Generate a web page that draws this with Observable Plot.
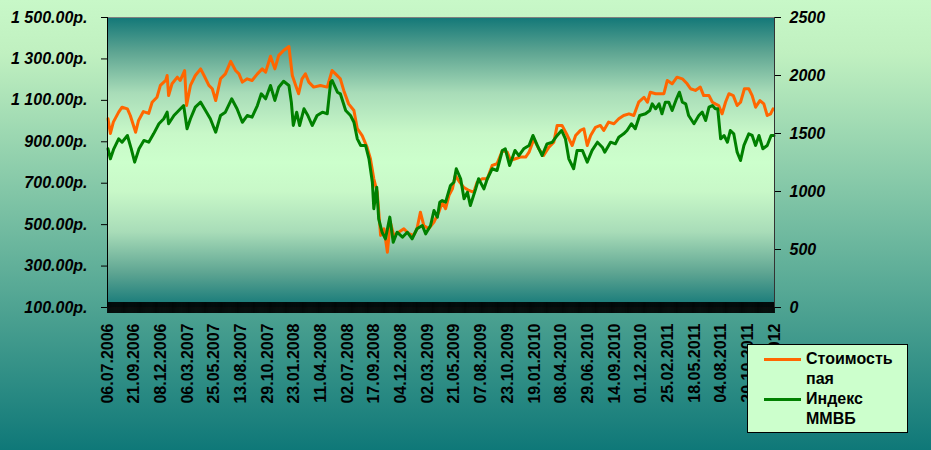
<!DOCTYPE html>
<html>
<head>
<meta charset="utf-8">
<script src="https://cdn.jsdelivr.net/npm/d3@7"></script>
<script src="https://cdn.jsdelivr.net/npm/@observablehq/plot@0.6"></script>
<style>
html, body { margin: 0; padding: 0; }
#chart {
  position: relative; width: 931px; height: 450px; overflow: hidden;
  background: linear-gradient(to bottom, #c8f8c8 0%, #c0f0c0 12%, #0f7878 100%);
  font-family: "Liberation Sans", Arial, sans-serif;
}
#chart svg { position: absolute; left: 0; top: 0; }
#legend {
  position: absolute; left: 747px; top: 344px; width: 161px; height: 89px;
  box-sizing: border-box; background: #ccffcc; border: 1px solid #000;
  font-weight: bold; font-size: 16px; color: #000;
}
.item { position: absolute; left: 16px; }
.sw { position: absolute; left: 0; top: 9px; width: 37px; height: 3px; }
.lbl { position: absolute; left: 42px; top: 0; width: 100px; line-height: 19.5px; }
</style>
</head>
<body>
<div id="chart"><div id="legend"></div></div>
<script>
// ---- data (trading-day index, value) ----
const seriesNames = ["Стоимость пая", "Индекс ММВБ"];
const seriesColors = ["#ff6600", "#008000"];

const paiSeries = [[1,1011],[6,940],[12,995],[23,1043],[30,1067],[41,1059],[47,1027],[58,946],[64,1003],[74,1046],[85,1037],[92,1091],[102,1115],[109,1172],[120,1196],[123,1220],[126,1123],[133,1180],[144,1212],[150,1196],[159,1244],[163,1075],[171,1172],[181,1220],[192,1252],[199,1220],[209,1172],[216,1156],[223,1099],[233,1204],[243,1228],[254,1288],[264,1244],[271,1228],[278,1188],[288,1204],[298,1196],[309,1228],[319,1252],[326,1236],[336,1313],[345,1252],[353,1317],[363,1341],[374,1360],[381,1220],[388,1172],[394,1132],[401,1204],[408,1228],[415,1188],[425,1164],[439,1172],[453,1164],[463,1244],[470,1228],[480,1204],[487,1148],[497,1083],[508,1051],[515,963],[525,930],[535,874],[542,818],[549,721],[556,657],[563,448],[570,480],[577,367],[583,512],[590,448],[601,464],[611,480],[621,456],[631,448],[638,480],[645,560],[652,496],[662,480],[673,512],[683,560],[690,608],[697,577],[704,641],[711,673],[717,737],[726,705],[734,681],[745,665],[755,657],[762,705],[772,721],[783,721],[793,786],[803,794],[814,858],[824,850],[831,810],[841,818],[851,826],[862,826],[869,850],[879,914],[889,866],[899,834],[910,874],[920,898],[927,979],[937,979],[948,930],[958,882],[965,930],[975,955],[982,963],[989,882],[996,930],[1006,970],[1016,979],[1023,955],[1033,995],[1044,987],[1054,1011],[1064,1027],[1075,1035],[1085,1027],[1095,1091],[1106,1115],[1113,1091],[1119,1139],[1130,1132],[1140,1132],[1147,1132],[1154,1196],[1164,1180],[1174,1212],[1185,1204],[1195,1180],[1202,1156],[1212,1148],[1222,1164],[1229,1123],[1240,1123],[1247,1091],[1253,1083],[1260,1075],[1267,1035],[1274,1091],[1281,1132],[1290,1123],[1298,1075],[1305,1091],[1313,1156],[1322,1156],[1329,1123],[1336,1067],[1345,1099],[1353,1083],[1360,1027],[1367,1035],[1372,1059]];

const mmvbSeries = [[1,1368],[6,1282],[13,1368],[23,1454],[30,1425],[41,1483],[49,1368],[56,1253],[65,1368],[75,1440],[85,1425],[95,1497],[106,1584],[116,1627],[123,1684],[126,1584],[137,1655],[147,1698],[157,1741],[164,1541],[171,1627],[181,1727],[192,1770],[202,1698],[212,1627],[223,1511],[233,1655],[243,1684],[256,1799],[267,1713],[278,1597],[288,1655],[298,1641],[309,1741],[317,1842],[326,1799],[336,1914],[345,1785],[353,1899],[363,1950],[374,1914],[379,1770],[383,1569],[390,1684],[396,1569],[405,1713],[413,1655],[422,1569],[432,1655],[443,1684],[453,1670],[460,1942],[463,1957],[474,1856],[480,1842],[491,1698],[501,1655],[508,1597],[515,1454],[522,1397],[532,1397],[539,1282],[546,1080],[549,851],[555,1037],[559,765],[566,649],[573,592],[582,779],[589,563],[597,649],[608,606],[618,649],[628,592],[638,679],[649,707],[656,635],[666,707],[673,836],[680,779],[685,908],[690,922],[697,908],[707,1052],[714,1080],[719,1196],[728,1110],[735,937],[742,994],[748,879],[759,1023],[765,1110],[776,1023],[783,1110],[793,1196],[803,1181],[814,1354],[820,1368],[829,1224],[840,1354],[848,1310],[858,1368],[869,1397],[877,1483],[886,1397],[896,1310],[906,1411],[917,1425],[927,1483],[936,1526],[944,1454],[951,1282],[961,1196],[968,1354],[979,1354],[989,1253],[999,1354],[1010,1425],[1020,1382],[1025,1339],[1037,1425],[1047,1411],[1054,1468],[1064,1497],[1071,1526],[1080,1584],[1088,1541],[1097,1655],[1109,1670],[1118,1698],[1123,1756],[1130,1713],[1137,1756],[1143,1670],[1150,1770],[1157,1770],[1164,1698],[1173,1799],[1179,1856],[1185,1770],[1192,1756],[1198,1655],[1209,1584],[1219,1655],[1226,1684],[1233,1612],[1240,1727],[1247,1741],[1253,1713],[1258,1713],[1264,1454],[1271,1483],[1278,1425],[1284,1526],[1291,1497],[1298,1339],[1305,1267],[1312,1397],[1322,1497],[1329,1483],[1336,1397],[1343,1483],[1351,1368],[1360,1397],[1368,1483],[1374,1483]];

const xLabels = ["06.07.2006","21.09.2006","08.12.2006","06.03.2007","25.05.2007","13.08.2007","29.10.2007","23.01.2008","11.04.2008","02.07.2008","17.09.2008","04.12.2008","02.03.2009","21.05.2009","07.08.2009","23.10.2009","19.01.2010","08.04.2010","29.06.2010","14.09.2010","01.12.2010","25.02.2011","18.05.2011","04.08.2011","20.10.2011","17.01.2012"];
const labelStep = 55;              // trading days between labels
const leftTicks = [100, 300, 500, 700, 900, 1100, 1300, 1500];
const rightTicks = [0, 500, 1000, 1500, 2000, 2500];
const leftDomain = [100, 1500];
const rightDomain = [0, 2500];

// ---- helpers ----
const lastDay = labelStep * (xLabels.length - 1);
const toLeft = r => leftDomain[0] + (r - rightDomain[0]) * (leftDomain[1] - leftDomain[0]) / (rightDomain[1] - rightDomain[0]);
const fromLeft = l => rightDomain[0] + (l - leftDomain[0]) * (rightDomain[1] - rightDomain[0]) / (leftDomain[1] - leftDomain[0]);
const rub = d3.formatLocale({decimal: ".", thousands: " ", grouping: [3], currency: ["", ""]}).format(",.2f");
const labelIdx = xLabels.map((_, i) => i * labelStep);
const font = '"Liberation Sans", Arial, sans-serif';

const gradientDefs = () => {
  const defs = d3.create("svg:defs");
  const g = defs.append("linearGradient").attr("id", "plotGrad")
    .attr("x1", 0).attr("y1", 0).attr("x2", 0).attr("y2", 1);
  [[0, "#137878"], [0.12, "#5ea592"], [0.26, "#a8dcb8"], [0.4, "#c8f8c8"], [0.5, "#ccffcc"],
   [0.6, "#c8f8c8"], [0.74, "#a8dcb8"], [0.88, "#5ea592"], [1, "#137878"]]
    .forEach(([o, c]) => g.append("stop").attr("offset", o).attr("stop-color", c));
  return defs.node();
};

const plot = Plot.plot({
  width: 931, height: 450,
  marginLeft: 107, marginRight: 157, marginTop: 17, marginBottom: 143,
  style: {background: "transparent", fontFamily: font, fontSize: "16px", color: "#000", overflow: "visible"},
  x: {domain: [0, lastDay]},
  y: {domain: leftDomain},
  marks: [
    gradientDefs,
    Plot.frame({fill: "url(#plotGrad)", stroke: "#808080"}),
    Plot.ruleX(d3.range(0, lastDay + 1), {x: d => d, stroke: "#000", strokeWidth: 0.8, insetTop: 285, insetBottom: -6}),
    Plot.line(paiSeries, {x: d => d[0], y: d => d[1], stroke: seriesColors[0], strokeWidth: 3, strokeLinejoin: "round"}),
    Plot.line(mmvbSeries, {x: d => d[0], y: d => toLeft(d[1]), stroke: seriesColors[1], strokeWidth: 3, strokeLinejoin: "round"}),
    Plot.axisY({anchor: "left", ticks: leftTicks, tickFormat: d => rub(d) + "р.", tickSize: 6, tickPadding: 14,
      fontSize: 16, fontWeight: "bold", fontStyle: "italic", stroke: "#000"}),
    Plot.axisY({anchor: "right", ticks: rightTicks.map(toLeft), tickFormat: d => String(Math.round(fromLeft(d))),
      tickSize: 6, tickPadding: 9, fontSize: 16, fontWeight: "bold", fontStyle: "italic"}),
    Plot.axisX({ticks: labelIdx, tickFormat: d => xLabels[Math.round(d / labelStep)], tickRotate: -90,
      tickSize: 0, tickPadding: 16, fontSize: 16, fontWeight: "bold"}),
    Plot.ruleX([0], {stroke: "#000"}),
    Plot.ruleX([lastDay], {stroke: "#333"})
  ]
});
document.getElementById("chart").prepend(plot);

// ---- legend ----
const legend = d3.select("#legend");
const rowTops = [4, 44];
seriesNames.forEach((name, i) => {
  const item = legend.append("div").attr("class", "item").style("top", rowTops[i] + "px");
  item.append("div").attr("class", "sw").style("background", seriesColors[i]);
  item.append("div").attr("class", "lbl").text(name);
});
</script>
</body>
</html>
